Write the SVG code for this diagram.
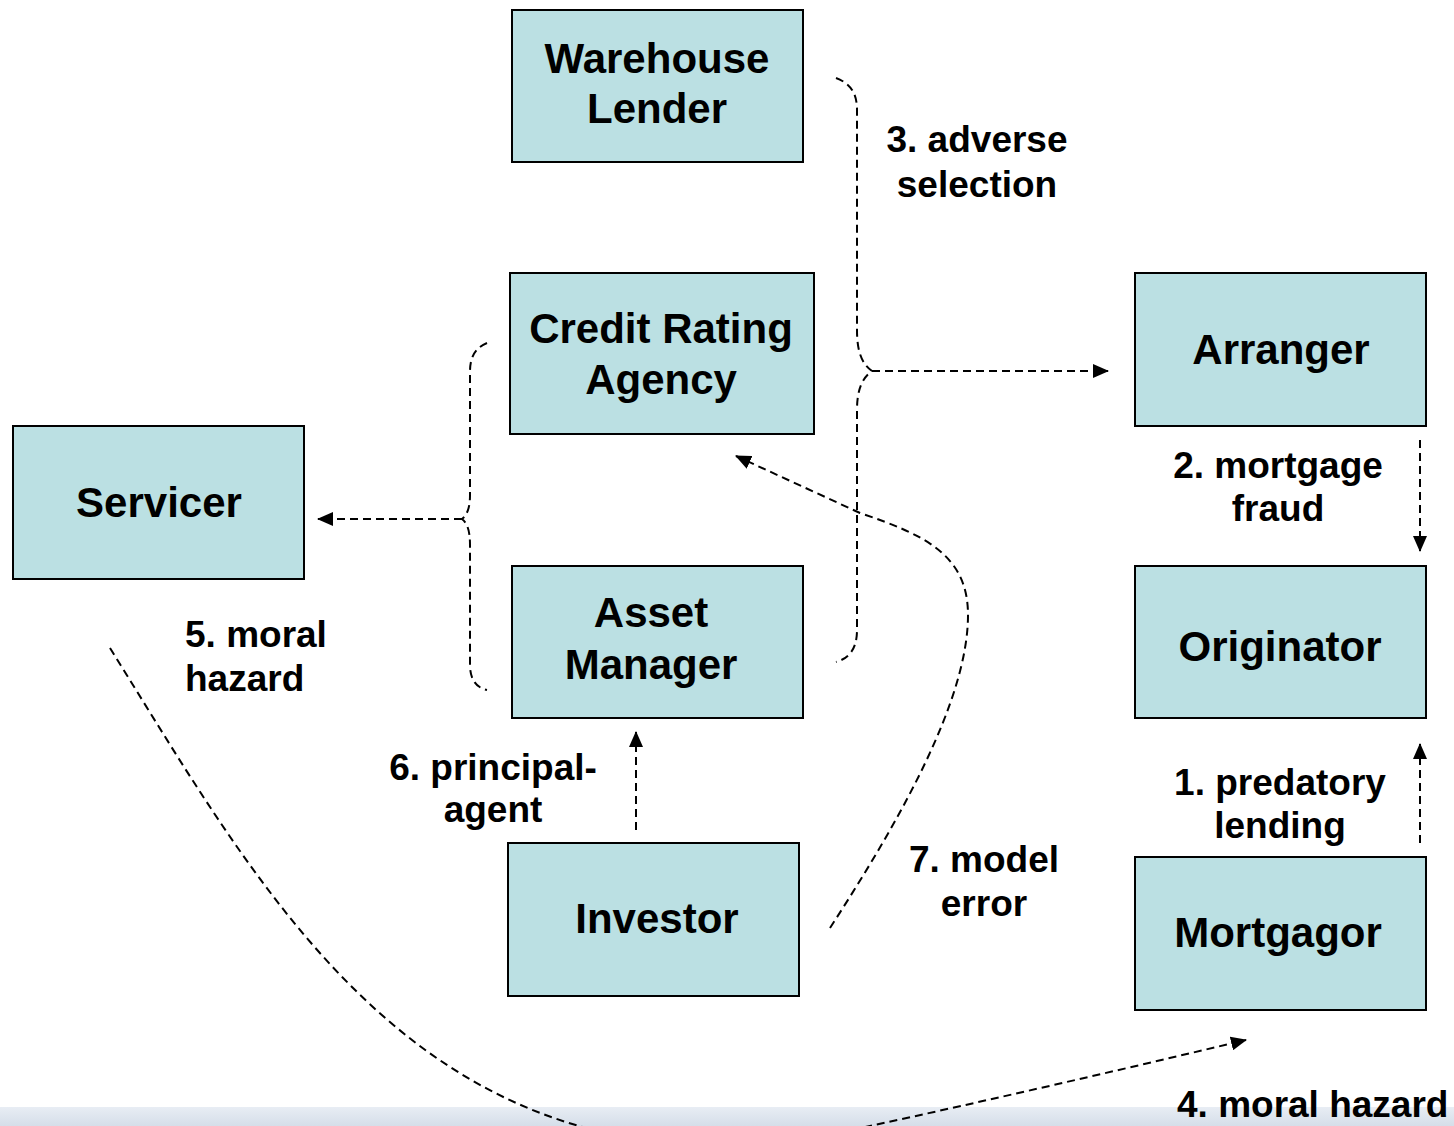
<svg xmlns="http://www.w3.org/2000/svg" width="1454" height="1126" viewBox="0 0 1454 1126">
<defs>
<style>
.box{fill:#bbe0e3;stroke:#000;stroke-width:2}
.nt{font-family:"Liberation Sans",Arial,sans-serif;font-weight:bold;font-size:42px;fill:#000;text-anchor:middle}
.lb{font-family:"Liberation Sans",Arial,sans-serif;font-weight:bold;font-size:37px;fill:#000;text-anchor:middle}
.cn{fill:none;stroke:#000;stroke-width:2;stroke-dasharray:8,5}
</style>
<marker id="ah" viewBox="0 0 16 14" refX="15" refY="7" markerWidth="16" markerHeight="14" markerUnits="userSpaceOnUse" orient="auto">
<path d="M0,0 L16,7 L0,14 Z" fill="#000"/>
</marker>
<linearGradient id="strip" x1="0" y1="0" x2="0" y2="1">
<stop offset="0" stop-color="#e8edf4"/>
<stop offset="1" stop-color="#d5dee9"/>
</linearGradient>
</defs>
<rect width="1454" height="1126" fill="#fff"/>
<rect id="footer" x="0" y="1107" width="1454" height="19" fill="url(#strip)"/>

<g id="connectors">
<path class="cn" d="M836,78 C852,84 857,95 857,110 L857,330 C857,352 862,364 872,371 C862,378 857,390 857,410 L857,630 C857,648 850,658 836,662"/>
<path class="cn" d="M872,371 L1108,371" marker-end="url(#ah)"/>
<path class="cn" d="M487,343 C475,348 470,357 470,372 L470,495 C470,508 467,515 462,519 C467,523 470,530 470,545 L470,665 C470,680 477,688 487,690"/>
<path class="cn" d="M462,519 L318,519" marker-end="url(#ah)"/>
<path class="cn" d="M1420,440 L1420,551" marker-end="url(#ah)"/>
<path class="cn" d="M1420,843 L1420,744" marker-end="url(#ah)"/>
<path class="cn" d="M636,830 L636,732" marker-end="url(#ah)"/>
<path class="cn" d="M830,928 C900,820 968,700 968,615 C968,555 925,535 860,513 L736,456" marker-end="url(#ah)"/>
<path class="cn" d="M110,648 C230,840 350,1060 579,1126 C679,1155 760,1150 870,1126 C990,1100 1120,1070 1246,1040" marker-end="url(#ah)"/>
</g>

<g id="warehouse-lender">
<rect class="box" x="512" y="10" width="291" height="152"/>
<text class="nt" x="657" y="73">Warehouse</text>
<text class="nt" x="657" y="123">Lender</text>
</g>
<g id="credit-rating-agency">
<rect class="box" x="510" y="273" width="304" height="161"/>
<text class="nt" x="661" y="343">Credit Rating</text>
<text class="nt" x="661" y="394">Agency</text>
</g>
<g id="arranger">
<rect class="box" x="1135" y="273" width="291" height="153"/>
<text class="nt" x="1281" y="364">Arranger</text>
</g>
<g id="servicer">
<rect class="box" x="13" y="426" width="291" height="153"/>
<text class="nt" x="159" y="517">Servicer</text>
</g>
<g id="asset-manager">
<rect class="box" x="512" y="566" width="291" height="152"/>
<text class="nt" x="651" y="627">Asset</text>
<text class="nt" x="651" y="679">Manager</text>
</g>
<g id="originator">
<rect class="box" x="1135" y="566" width="291" height="152"/>
<text class="nt" x="1280" y="661">Originator</text>
</g>
<g id="investor">
<rect class="box" x="508" y="843" width="291" height="153"/>
<text class="nt" x="657" y="933">Investor</text>
</g>
<g id="mortgagor">
<rect class="box" x="1135" y="857" width="291" height="153"/>
<text class="nt" x="1278" y="947">Mortgagor</text>
</g>

<g id="labels">
<text class="lb" x="977" y="152">3. adverse</text>
<text class="lb" x="977" y="197">selection</text>
<text class="lb" x="1278" y="478">2. mortgage</text>
<text class="lb" x="1278" y="521">fraud</text>
<text class="lb" x="1280" y="795">1. predatory</text>
<text class="lb" x="1280" y="838">lending</text>
<text class="lb" x="984" y="872">7. model</text>
<text class="lb" x="984" y="916">error</text>
<text class="lb" x="493" y="780">6. principal-</text>
<text class="lb" x="493" y="822">agent</text>
<text class="lb" x="185" y="647" style="text-anchor:start">5. moral</text>
<text class="lb" x="185" y="691" style="text-anchor:start">hazard</text>
<text class="lb" x="1177" y="1117" style="text-anchor:start">4. moral hazard</text>
</g>
</svg>
